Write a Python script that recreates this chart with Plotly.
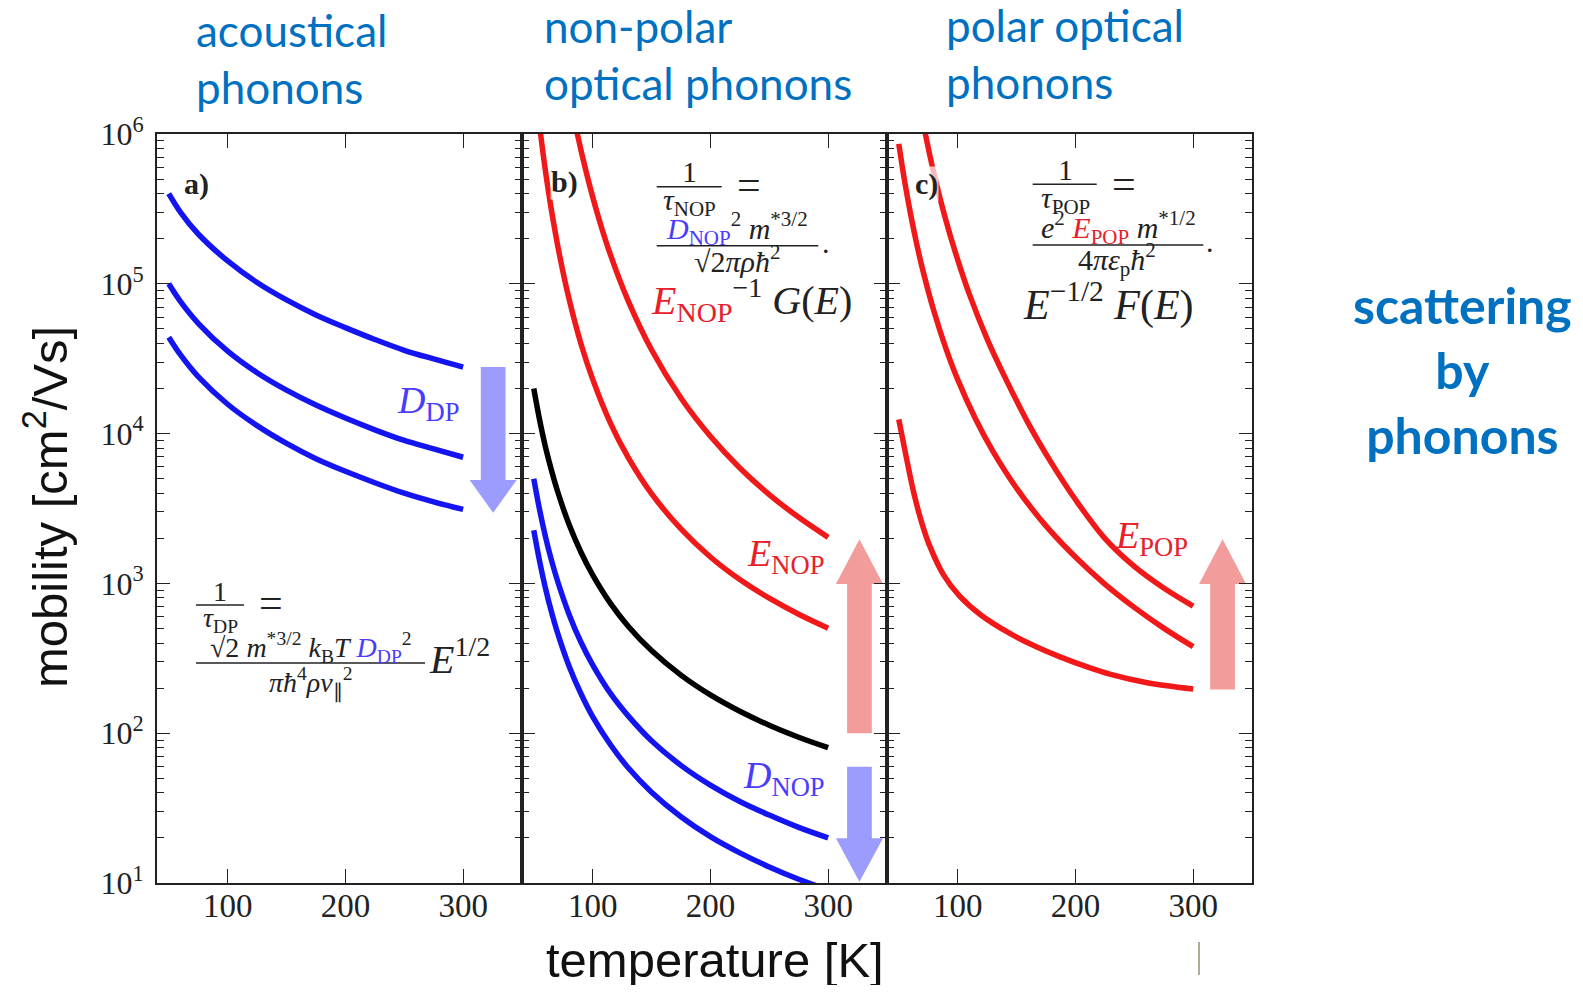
import plotly.graph_objects as go

# ---------------- data ----------------
# panel a: acoustical phonons (three values of D_DP)
T_a = [50, 60, 75, 100, 125, 150, 175, 200, 225, 250, 275, 300]
mu_a_top = [4.0e5, 3.0e5, 2.15e5, 1.42e5, 1.02e5, 7.8e4, 6.2e4, 5.1e4, 4.25e4, 3.6e4, 3.15e4, 2.78e4]
mu_a_mid = [1.0e5, 7.6e4, 5.45e4, 3.55e4, 2.55e4, 1.95e4, 1.55e4, 1.27e4, 1.06e4, 9.0e3, 7.9e3, 6.95e3]
mu_a_low = [4.4e4, 3.35e4, 2.4e4, 1.57e4, 1.13e4, 8.6e3, 6.8e3, 5.6e3, 4.7e3, 4.0e3, 3.5e3, 3.12e3]

# panel b: non-polar optical phonons
T_b = [50, 55, 60, 65, 70, 80, 90, 100, 115, 130, 150, 175, 200, 225, 250, 275, 300]
mu_b_black = [2.0e4, 1.23e4, 8.1e3, 5.7e3, 4.17e3, 2.47e3, 1.62e3, 1.14e3, 738, 520, 356, 244, 180, 140, 113, 94, 80]
mu_b_blue1 = [5.0e3, 3.09e3, 2.04e3, 1.43e3, 1.05e3, 621, 406, 286, 185, 131, 89, 61, 45, 35, 28.4, 23.5, 20.0]
mu_b_blue2 = [2.26e3, 1.4e3, 923, 646, 473, 280, 184, 129, 84, 59, 40.4, 27.7, 20.4, 15.9, 12.8, 10.6, 9.0]
T_b_red1 = [82, 87, 95, 105, 115, 130, 150, 175, 200, 225, 250, 275, 300]
mu_b_red1 = [1.57e6, 1.0e6, 5.39e5, 2.77e5, 1.57e5, 7.75e4, 3.63e4, 1.73e4, 9.6e3, 5.9e3, 3.92e3, 2.76e3, 2.03e3]
T_b_red2 = [52, 56, 60, 65, 72, 80, 90, 100, 115, 130, 150, 175, 200, 225, 250, 275, 300]
mu_b_red2 = [1.81e6, 9.7e5, 5.6e5, 3.1e5, 1.54e5, 7.9e4, 4.0e4, 2.31e4, 1.18e4, 6.96e3, 3.97e3, 2.31e3, 1.5e3, 1.06e3, 796, 622, 502]

# panel c: polar optical phonons
T_c_red1 = [70, 75, 80, 90, 100, 110, 125, 140, 160, 180, 200, 225, 250, 275, 300]
mu_c_red1 = [1.27e6, 8.1e5, 5.4e5, 2.66e5, 1.45e5, 8.5e4, 4.29e4, 2.39e4, 1.17e4, 6.3e3, 3.63e3, 2.0e3, 1.3e3, 933, 706]
T_c_red2 = [50, 55, 60, 65, 70, 80, 90, 100, 115, 130, 150, 175, 200, 225, 250, 275, 300]
mu_c_red2 = [8.6e5, 4.83e5, 2.93e5, 1.88e5, 1.27e5, 6.5e4, 3.71e4, 2.3e4, 1.26e4, 7.6e3, 4.32e3, 2.42e3, 1.5e3, 990, 692, 503, 378]
T_c_red3 = [50, 56, 63, 70, 76, 88, 101.5, 120, 144, 165, 187, 210, 230, 260, 300]
mu_c_red3 = [1.245e4, 7.2e3, 3.94e3, 2.47e3, 1.8e3, 1.14e3, 826, 613, 465, 383, 323, 277, 247, 218, 197]

x_ticks = [100, 200, 300]
x_range = [40, 350]
y_range_log = [1, 6]
y_decades = [1, 2, 3, 4, 5, 6]

# arrows: [T centre, tail value, head-base value, tip value]
arrow_a_DP = [325.5, 2.78e4, 4.9e3, 2.96e3]
arrow_b_ENOP = [326.6, 100, 990, 1.97e3]
arrow_b_DNOP = [326.6, 59.7, 19.9, 10.2]
arrow_c_EPOP = [325.0, 196, 990, 1.97e3]

# ---------------- styling ----------------
W, H = 1567, 977
ML, MR, MT, MB = 149, 323, 126, 102
SX0, SY0 = 8 + ML, 8 + MT                 # plot-area top-left in screen pixels
PW, PH = W - ML - MR, H - MT - MB


def px(x):
    return (x - SX0) / PW


def py(y):
    return 1 - (y - SY0) / PH


BLUE = "#1414f0"
RED = "#f01818"
BLACK = "#000000"
LBLUE = "#9c9cff"
LRED = "#f29c9c"
TXTBLUE = "#0070c0"
MBLUE = "#4a3cff"
MRED = "#e8202a"
LW = 5.5
SERIF = "Liberation Serif"

fig = go.Figure()


def axn(n, letter):
    return letter if n == 1 else f"{letter}{n}"


def curve(x, y, color, n):
    fig.add_trace(go.Scatter(
        x=x, y=y, mode="lines",
        line=dict(color=color, width=LW, shape="spline", smoothing=1.0),
        xaxis=axn(n, "x"), yaxis=axn(n, "y"),
        hoverinfo="skip", showlegend=False))


def arrow(spec, color, n, hw_shaft=10.5, hw_head=20):
    xc, tail, base, tip = spec
    xs = [xc - hw_shaft, xc - hw_shaft, xc - hw_head, xc, xc + hw_head, xc + hw_shaft, xc + hw_shaft, xc - hw_shaft]
    ys = [tail, base, base, tip, base, base, tail, tail]
    fig.add_trace(go.Scatter(
        x=xs, y=ys, mode="lines", fill="toself", fillcolor=color,
        line=dict(width=0, color=color),
        xaxis=axn(n, "x"), yaxis=axn(n, "y"),
        hoverinfo="skip", showlegend=False))


arrow(arrow_a_DP, LBLUE, 1)
arrow(arrow_b_ENOP, LRED, 2)
arrow(arrow_b_DNOP, LBLUE, 2)
arrow(arrow_c_EPOP, LRED, 3)

curve(T_a, mu_a_top, BLUE, 1)
curve(T_a, mu_a_mid, BLUE, 1)
curve(T_a, mu_a_low, BLUE, 1)

curve(T_b_red1, mu_b_red1, RED, 2)
curve(T_b_red2, mu_b_red2, RED, 2)
curve(T_b, mu_b_black, BLACK, 2)
curve(T_b, mu_b_blue1, BLUE, 2)
curve(T_b, mu_b_blue2, BLUE, 2)

curve(T_c_red1, mu_c_red1, RED, 3)
curve(T_c_red2, mu_c_red2, RED, 3)
curve(T_c_red3, mu_c_red3, RED, 3)

frame = "#222222"
y_tickvals = [10 ** d for d in y_decades]
y_ticktext = ["10<sup>%d</sup>" % d for d in y_decades]
y_minor = [m * 10 ** d for d in y_decades[:-1] for m in range(2, 10)]

xcommon = dict(range=x_range, tickmode="array", tickvals=x_ticks, ticktext=[str(v) for v in x_ticks],
               ticks="inside", ticklen=14, tickwidth=1.3, tickcolor=frame,
               showline=True, linecolor=frame, linewidth=1.8, mirror="ticks",
               showgrid=False, zeroline=False, ticklabelstandoff=-8,
               tickfont=dict(family=SERIF, size=33, color="#222"))
ycommon = dict(type="log", range=y_range_log, tickmode="array", tickvals=y_tickvals, ticktext=y_ticktext,
               ticks="inside", ticklen=13, tickwidth=1.3, tickcolor=frame,
               showline=True, linecolor=frame, linewidth=1.8, mirror="ticks",
               showgrid=False, zeroline=False,
               minor=dict(ticks="inside", ticklen=7, tickwidth=1.1, tickcolor=frame,
                          tickmode="array", tickvals=y_minor, showgrid=False),
               tickfont=dict(family=SERIF, size=32, color="#222"))

fig.update_layout(
    width=W, height=H,
    margin=dict(l=ML, r=MR, t=MT, b=MB),
    plot_bgcolor="white", paper_bgcolor="white",
    showlegend=False,
    xaxis=dict(domain=[0, 1 / 3], anchor="y", **xcommon),
    xaxis2=dict(domain=[1 / 3, 2 / 3], anchor="y2", **xcommon),
    xaxis3=dict(domain=[2 / 3, 1], anchor="y3", **xcommon),
    yaxis=dict(anchor="x", ticklabelstandoff=5, **ycommon),
    yaxis2=dict(anchor="x2", matches="y", showticklabels=False, **ycommon),
    yaxis3=dict(anchor="x3", matches="y", showticklabels=False, **ycommon),
)

ann = []


def text(x, y, s, size, color="#222", family=SERIF, xanchor="center", yanchor="middle",
         angle=0, bg=None, align="center"):
    d = dict(x=px(x), y=py(y), xref="paper", yref="paper", text=s, showarrow=False,
             font=dict(family=family, size=size, color=color), align=align,
             xanchor=xanchor, yanchor=yanchor, textangle=angle, borderpad=0)
    if bg:
        d["bgcolor"] = bg
    ann.append(d)


shapes = []


def hline(x0, x1, y, w=1.6, color="#222"):
    shapes.append(dict(type="line", xref="paper", yref="paper", x0=px(x0), x1=px(x1),
                       y0=py(y), y1=py(y), line=dict(color=color, width=w)))


# headers
HDR = "Lato"
text(195, 59, "acoustical<br>phonons", 44, TXTBLUE, HDR, xanchor="left", align="left")
text(543, 54, "non-polar<br>optical phonons", 44, TXTBLUE, HDR, xanchor="left", align="left")
text(945, 53, "polar optical<br>phonons", 44, TXTBLUE, HDR, xanchor="left", align="left")
text(1462, 370, "<b>scattering<br>by<br>phonons</b>", 50, TXTBLUE, HDR)

# axis titles
text(46, 507, "mobility [cm<sup>2</sup>/Vs]", 49, "#111", "Liberation Sans", angle=-90)
text(715, 960, "temperature [K]", 49, "#111", "Liberation Sans")

# panel labels
text(196, 184, "<b>a)</b>", 30)
text(564, 182, "<b>b)</b>", 30, bg="rgba(255,255,255,0.7)")
text(926, 184, "<b>c)</b>", 30, bg="rgba(255,255,255,0.7)")

# formula a
FS = 28
text(220, 591, "1", FS)
hline(196, 244, 605)
text(220, 619, "<i>τ</i><sub>DP</sub>", FS)
text(271, 603, "=", 42)
text(311, 647, "√2 <i>m</i><sup>*3/2</sup> <i>k</i><sub>B</sub><i>T</i> <span style='color:%s'><i>D</i><sub>DP</sub></span><sup>2</sup>" % MBLUE, FS)
hline(196, 425, 663)
text(311, 683, "<i>πħ</i><sup>4</sup><i>ρν</i><sub>∥</sub><sup>2</sup>", FS)
text(428, 656, "<i>E</i><sup>1/2</sup>", 40, xanchor="left")

# formula b
FB = 30
text(689, 171, "1", FB)
hline(656.7, 721.7, 186.7)
text(689, 202, "<i>τ</i><sub>NOP</sub>", FB)
text(749, 185, "=", 42)
text(737, 229, "<span style='color:%s'><i>D</i><sub>NOP</sub></span><sup>2</sup> <i>m</i><sup>*3/2</sup>" % MBLUE, FB)
hline(656.7, 818.3, 245.7)
text(826, 243, ".", FB)
text(737, 259, "√2<i>πρħ</i><sup>2</sup>", FB)
text(650, 300, "<span style='color:%s'><i>E</i><sub>NOP</sub></span><sup>−1</sup> <i>G</i>(<i>E</i>)" % MRED, 40, xanchor="left")

# formula c
text(1065, 169, "1", FB)
hline(1032.7, 1096.7, 184.3)
text(1065, 200, "<i>τ</i><sub>POP</sub>", FB)
text(1124, 184, "=", 42)
text(1118, 227, "<i>e</i><sup>2</sup> <span style='color:%s'><i>E</i><sub>POP</sub></span> <i>m</i><sup>*1/2</sup>" % MRED, FB)
hline(1032.7, 1203.3, 245)
text(1210, 242, ".", FB)
text(1117, 259, "4<i>πε</i><sub>p</sub><i>ħ</i><sup>2</sup>", FB)
text(1022, 302, "<i>E</i><sup>−1/2</sup> <i>F</i>(<i>E</i>)", 42, xanchor="left")

# arrow labels
text(428, 403, "<i>D</i><sub>DP</sub>", 38, MBLUE)
text(785, 556, "<i>E</i><sub>NOP</sub>", 38, MRED)
text(784, 778, "<i>D</i><sub>NOP</sub>", 38, MBLUE)
text(1151, 538, "<i>E</i><sub>POP</sub>", 38, MRED)

# small vertical mark near the bottom
shapes.append(dict(type="line", xref="paper", yref="paper", x0=px(1199), x1=px(1199),
                   y0=py(942), y1=py(975), line=dict(color="#9a9070", width=1.5)))

fig.update_layout(annotations=ann, shapes=shapes)
fig.write_html("out.html")
